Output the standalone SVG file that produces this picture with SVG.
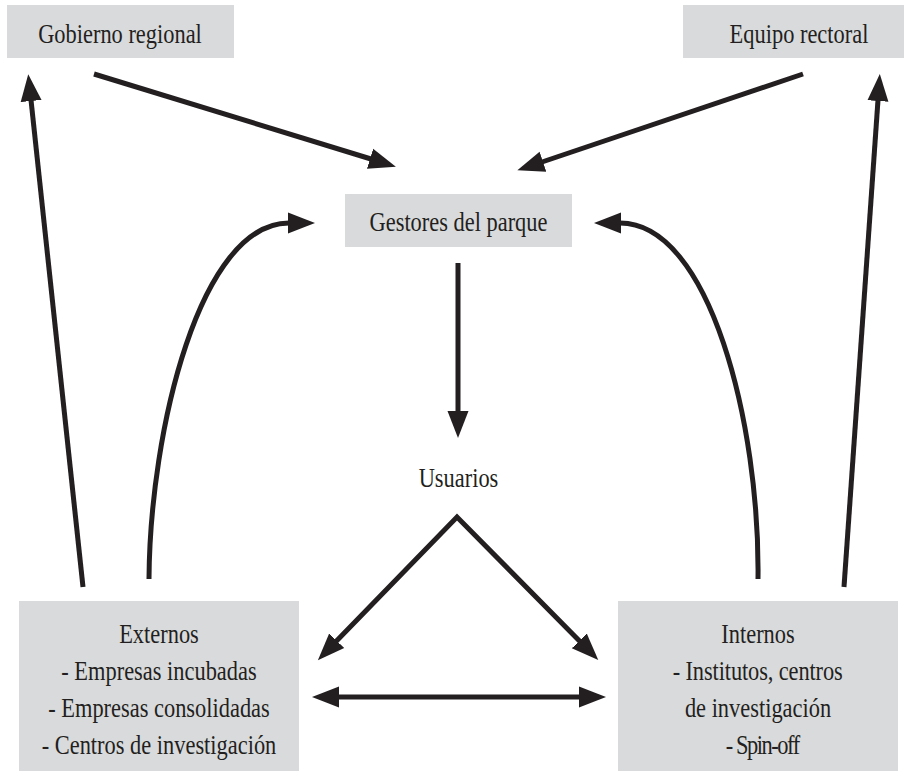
<svg xmlns="http://www.w3.org/2000/svg" width="904" height="771" viewBox="0 0 904 771">
<style>
.box{fill:#d9dadc;stroke:none}
.t{font-family:'Liberation Serif','Times New Roman',serif;font-size:26.5px;fill:#231f20;text-anchor:middle}
.c{fill:none;stroke:#231f20;stroke-width:5;stroke-linejoin:miter;stroke-miterlimit:10}
.e{marker-end:url(#ah)}
.s{marker-start:url(#ah)}
</style>
<defs>
<marker id="ah" markerUnits="userSpaceOnUse" markerWidth="32" markerHeight="26" viewBox="0 -13 32 26" refX="1" refY="0" orient="auto-start-reverse">
<path d="M0,-10.5 L27,0 L0,10.5 Z" fill="#231f20"/>
</marker>
</defs>
<rect width="904" height="771" fill="#ffffff"/>
<g id="gobierno">
<rect class="box" x="7" y="5" width="227" height="53"/>
<text class="t" transform="translate(120,43) scale(0.846,1)">Gobierno regional</text>
</g>
<g id="equipo">
<rect class="box" x="683" y="5" width="232" height="53"/>
<text class="t" transform="translate(799,43) scale(0.846,1)">Equipo rectoral</text>
</g>
<g id="gestores">
<rect class="box" x="345" y="194" width="227" height="53"/>
<text class="t" transform="translate(458.5,230.5) scale(0.846,1)">Gestores del parque</text>
</g>
<g id="usuarios">
<text class="t" transform="translate(458.5,487) scale(0.846,1)">Usuarios</text>
</g>
<g id="externos">
<rect class="box" x="19" y="601" width="280" height="170"/>
<text class="t" transform="translate(159,642.5) scale(0.846,1)">Externos</text>
<text class="t" transform="translate(159,679.5) scale(0.846,1)">- Empresas incubadas</text>
<text class="t" transform="translate(159,716.5) scale(0.846,1)">- Empresas consolidadas</text>
<text class="t" transform="translate(159,753.5) scale(0.846,1)">- Centros de investigación</text>
</g>
<g id="internos">
<rect class="box" x="618" y="601" width="280" height="170"/>
<text class="t" transform="translate(758,642.5) scale(0.846,1)">Internos</text>
<text class="t" transform="translate(757.7,679.5) scale(0.846,1)" textLength="201" lengthAdjust="spacing">- Institutos, centros</text>
<text class="t" transform="translate(758,716.5) scale(0.846,1)">de investigación</text>
<text class="t" transform="translate(763,753.5) scale(0.846,1)" textLength="88" lengthAdjust="spacing">- Spin-off</text>
</g>
<g id="connectors">
<path class="c e" d="M94,74 L371,159"/>
<path class="c e" d="M803,74 L542,162"/>
<path class="c e" d="M83,587 L31,100"/>
<path class="c e" d="M844,587 L878,100"/>
<path class="c e" d="M149,579 C150,430 200,223 289,223"/>
<path class="c e" d="M758,579 C760,425 710,223 620,223"/>
<path class="c e" d="M458,263 L458,412"/>
<path class="c s e" d="M336,641.5 L457,517 L580,641.5"/>
<path class="c s e" d="M338,697 L580,697"/>
</g>
</svg>
